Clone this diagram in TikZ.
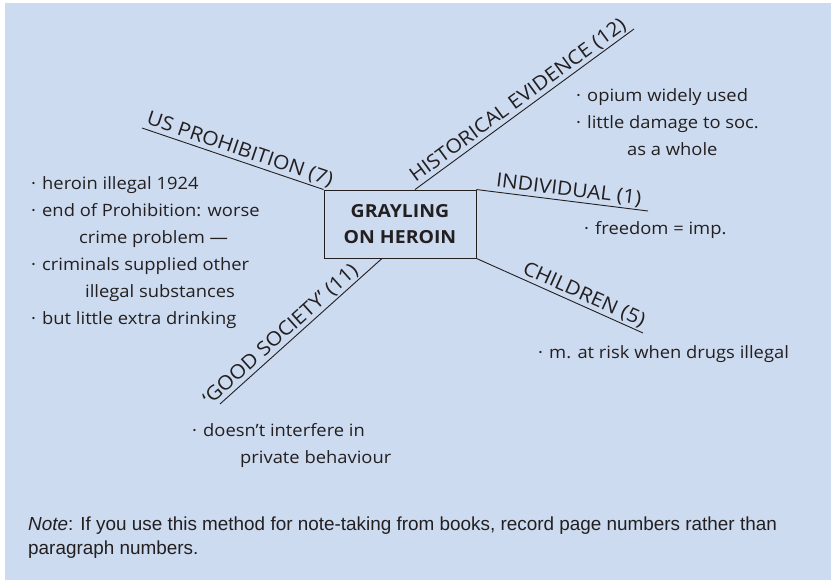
\documentclass[tikz,border=0pt]{standalone}
\usepackage{fontspec}
\setmainfont{Open Sans}
\newfontfamily\mapfont[FakeStretch=1.08]{Open Sans}
\newfontfamily\notefont{Liberation Sans}
\usetikzlibrary{positioning}
\definecolor{mapblue}{RGB}{204,219,240}
\definecolor{inkgray}{RGB}{35,31,32}
\newcommand{\blt}{\makebox[11pt][l]{\textperiodcentered}}

\begin{document}
\begin{tikzpicture}[x=1pt, y=-1pt,
    branch/.style={draw=inkgray, line width=0.9pt},
    topic/.style={sloped, above, inner sep=1.5pt, font=\mapfont\fontsize{19.5}{22}\selectfont, text=inkgray},
    notes/.style={align=left, anchor=north west, inner sep=0pt, font=\mapfont\fontsize{17}{27}\selectfont, text=inkgray},
    hub/.style={rectangle, draw=inkgray, line width=0.9pt, minimum width=152pt, minimum height=68pt,
                align=center, font=\mapfont\bfseries\fontsize{18}{26}\selectfont, text=inkgray}]

    % Background
    \useasboundingbox (0,0) rectangle (831,580);
    \fill[mapblue] (5,3) rectangle (831,580);

    % Centre
    \node[hub] (hub) at (400,224) {GRAYLING\\ON HEROIN};

    % Free ends of the branches
    \coordinate (usend) at (142,128);
    \coordinate (histend) at (634,29);
    \coordinate (indend) at (648,211);
    \coordinate (childend) at (643,333);
    \coordinate (goodend) at (220,404);

    % Branches
    \draw[branch] (usend) -- node[topic, pos=0.52] {US PROHIBITION (7)} (hub.north west);
    \draw[branch] ([xshift=15pt]hub.north) -- node[topic, pos=0.5] {HISTORICAL EVIDENCE (12)} (histend);
    \draw[branch] (hub.north east) -- node[topic, pos=0.53] {INDIVIDUAL (1)} (indend);
    \draw[branch] (hub.south east) -- node[topic, pos=0.62] {CHILDREN (5)} (childend);
    \draw[branch] (goodend) -- node[topic, pos=0.42] {‘GOOD SOCIETY’ (11)} ([xshift=-18pt]hub.south);

    % Notes
    \node[notes] (usnotes) at (31,176) {\blt heroin illegal 1924\\
        \blt end of Prohibition: worse\\
        \hspace*{48pt}crime problem —\\
        \blt criminals supplied other\\
        \hspace*{54pt}illegal substances\\
        \blt but little extra drinking};
    \node[notes] (histnotes) at (576,88) {\blt opium widely used\\
        \blt little damage to soc.\\
        \hspace*{51pt}as a whole};
    \node[notes] (indnotes) at (584,221) {\blt freedom = imp.};
    \node[notes] (childnotes) at (538,345) {\blt m. at risk when drugs illegal};
    \node[notes] (goodnotes) at (192,423) {\blt doesn’t interfere in\\
        \hspace*{48pt}private behaviour};

    % Footnote
    \node[align=left, anchor=north west, inner sep=0pt, text=inkgray,
          font=\notefont\fontsize{18.9}{24}\selectfont] (footnote) at (28,517)
        {\emph{Note}: If you use this method for note-taking from books, record page numbers rather than\\
         paragraph numbers.};
\end{tikzpicture}
\end{document}
